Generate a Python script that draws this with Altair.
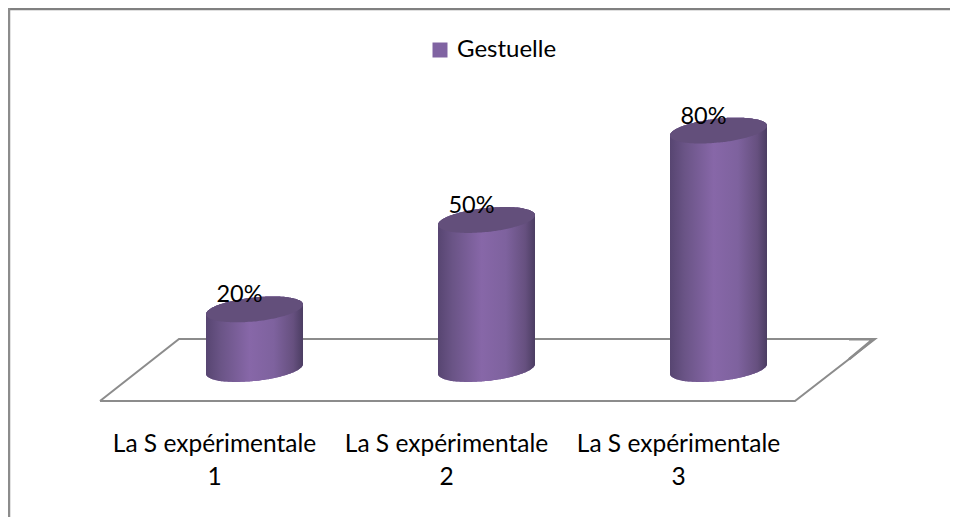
import altair as alt
import numpy as np
import pandas as pd

categories = ["La S expérimentale\n1", "La S expérimentale\n2", "La S expérimentale\n3"]
values = [20, 50, 80]
labels = ["20%", "50%", "80%"]
series = "Gestuelle"

PX = 232.0          # pixels per category
PY = 2.98           # pixels per percent
W, H = 942, 509     # plot size
X0, Y0 = 8, 8       # plot origin in the page
xdom = [(X0 - 254.5) / PX, (X0 + W - 254.5) / PX]
ydom = [(369 - (Y0 + H)) / PY, (369 - Y0) / PY]

hw = 48.5 / PX      # half-width of a cylinder, category units
tilt = 0.10 * PX / PY   # rise to the right, percent per category unit
b = 12.0 / PY       # half-height of the cap, percent

xs = alt.X("x:Q", scale=alt.Scale(domain=xdom, nice=False, zero=False), axis=None)
ys = alt.Y("y:Q", scale=alt.Scale(domain=ydom, nice=False, zero=False), axis=None)

t = np.sin(np.linspace(-np.pi / 2, np.pi / 2, 61))
body_rows, cap_rows = [], []
for i, v in enumerate(values):
    for u in t:
        r = np.sqrt(max(0.0, 1 - u * u))
        dx = u * hw
        line = tilt * dx
        body_rows.append({"x": i + dx, "y": v + line + b * r, "y2": line - b * r, "cat": i, "series": series})
        cap_rows.append({"x": i + dx, "y": v + line + b * r, "y2": v + line - b * r, "cat": i})
body = pd.DataFrame(body_rows)
cap = pd.DataFrame(cap_rows)

body_grad = alt.Gradient(
    gradient="linear", x1=0, x2=1, y1=0, y2=0,
    stops=[
        alt.GradientStop(offset=0, color="#574571"),
        alt.GradientStop(offset=0.15, color="#6a5486"),
        alt.GradientStop(offset=0.45, color="#8767a8"),
        alt.GradientStop(offset=0.7, color="#7e629e"),
        alt.GradientStop(offset=0.9, color="#66507f"),
        alt.GradientStop(offset=1, color="#4b3d62"),
    ],
)

base_body = alt.Chart(body).mark_area(interpolate="monotone").encode(
    xs, ys, y2="y2:Q", detail="cat:N",
    color=alt.Color(
        "series:N",
        scale=alt.Scale(domain=[series], range=["#8064A2"]),
        legend=alt.Legend(
            title=None, orient="none", legendX=420, legendY=30, symbolType="square",
            symbolSize=225, symbolStrokeWidth=0, labelFont="Lato", labelFontSize=24,
            labelColor="black", labelOffset=5,
        ),
    ),
)
grad_body = alt.Chart(body).mark_area(fill=body_grad, interpolate="monotone").encode(
    xs, ys, y2="y2:Q", detail="cat:N"
)
cap_layer = alt.Chart(cap).mark_area(fill="#634f7b", interpolate="monotone").encode(
    xs, ys, y2="y2:Q", detail="cat:N"
)


def px(p):
    return (p - 254.5) / PX


def py(p):
    return (369 - p) / PY


# perspective floor
floor = alt.Chart(pd.DataFrame({
    "x": [px(100), px(179), px(875), px(795), px(100)],
    "y": [py(401), py(339), py(339), py(401), py(401)],
    "o": range(5),
})).mark_line(color="#8c8c8c", strokeWidth=2).encode(xs, ys, order="o:Q")

# thicker end of the floor edge at the far right
floor_end = alt.Chart(pd.DataFrame({
    "x": [px(849), px(873), px(849)],
    "y": [py(339.3), py(339.3), py(359.2)],
    "o": range(3),
})).mark_line(color="#8c8c8c", strokeWidth=2.6).encode(xs, ys, order="o:Q")

# chart frame: only the top and left edges are visible
frame_top = alt.Chart(pd.DataFrame({"a": [0]})).mark_rule(color="#808080", strokeWidth=2.5).encode(
    x=alt.value(0), x2=alt.value(W), y=alt.value(1)
)
frame_left = alt.Chart(pd.DataFrame({"a": [0]})).mark_rule(color="#8c8c8c", strokeWidth=2.5).encode(
    x=alt.value(1), y=alt.value(0), y2=alt.value(H)
)

df = pd.DataFrame({"x": [0, 1, 2], "y": values, "label": labels, "cat": categories})
pct = alt.Chart(df).mark_text(font="Lato", fontSize=23.5, color="black", dx=-15, dy=-14).encode(
    xs, ys, text="label:N"
)
cat_text = alt.Chart(df).mark_text(
    font="Lato", fontSize=24.5, color="black", dx=-40, lineBreak="\n", lineHeight=33, baseline="top", align="center"
).encode(xs, y=alt.value(425), text="cat:N")

chart = alt.layer(
    frame_top, frame_left, floor, floor_end, base_body, grad_body, cap_layer, pct, cat_text
).properties(
    width=W, height=H, padding=0, background="white",
    autosize=alt.AutoSizeParams(type="none"),
).configure_view(strokeWidth=0)

chart.save("out.html", embed_options={"renderer": "svg", "actions": False})
